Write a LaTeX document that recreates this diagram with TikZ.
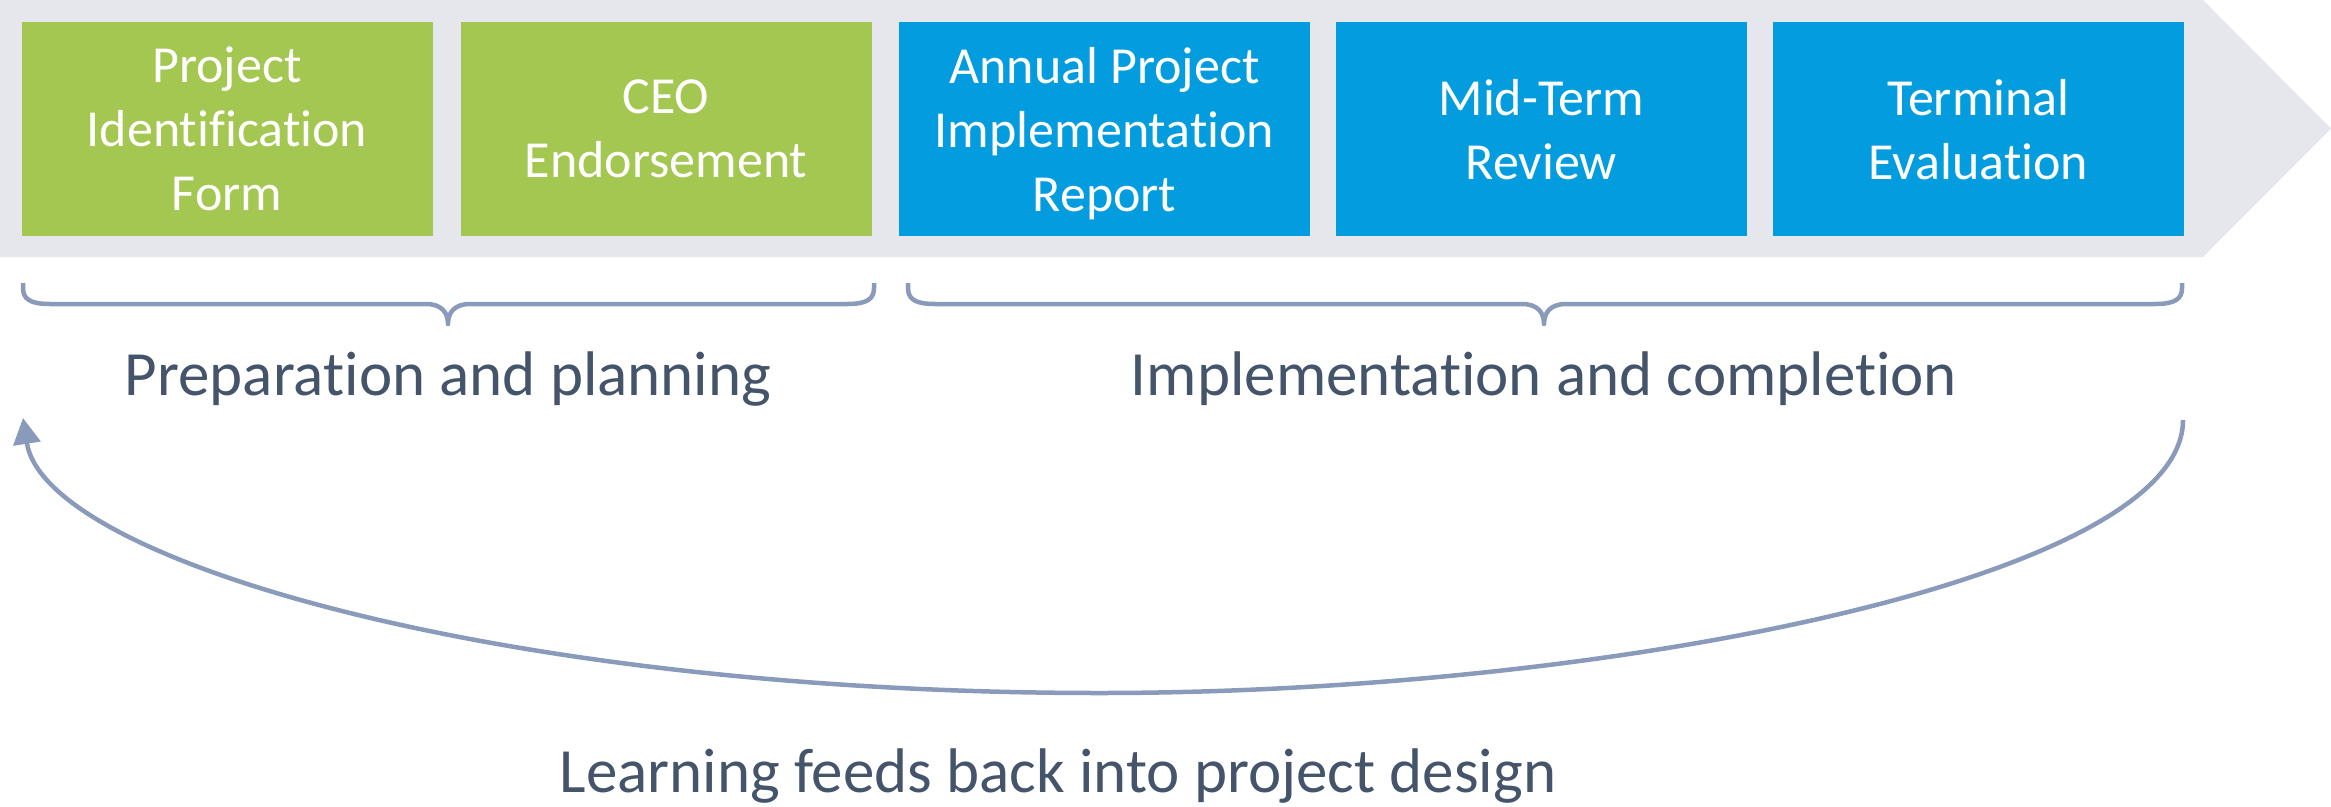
\documentclass[tikz,border=0pt]{standalone}
\usepackage{fontspec}
\setmainfont{Carlito}[RawFeature={-liga;-clig;-calt}]
\usetikzlibrary{arrows.meta}
\definecolor{bandgray}{HTML}{E6E7EC}
\definecolor{pifgreen}{HTML}{A3C751}
\definecolor{impblue}{HTML}{039DDF}
\definecolor{labeltext}{HTML}{44546A}
\definecolor{bracecol}{HTML}{8A9ABA}
\tikzset{
  stagebox/.style={minimum width=411pt, minimum height=214pt, inner sep=0pt, text=white, align=center, font=\fontsize{52}{64}\selectfont, text depth=0pt},
  prepbox/.style={stagebox, fill=pifgreen},
  implbox/.style={stagebox, fill=impblue},
  bracestyle/.style={draw=bracecol, line width=4.5pt, line join=round},
  phaselabel/.style={text=labeltext, font=\fontsize{63}{76}\selectfont, anchor=base, inner sep=0pt},
  feedback/.style={draw=bracecol, line width=4.5pt, -{Triangle[length=26pt,width=27pt]}}
}
\begin{document}
\begin{tikzpicture}[x=1pt,y=-1pt]
\useasboundingbox (0,0) rectangle (2331,806);
% background chevron band
\fill[bandgray] (0,0) -- (2203,0) -- (2331,128.5) -- (2203,257) -- (0,257) -- cycle;
% stage boxes
\node[prepbox] (pif) at (227,129) {Project\\Identification\\Form};
\node[prepbox] (ceo) at (666,129) {CEO\\Endorsement};
\node[implbox] (apr) at (1104.5,129) {Annual Project\\Implementation\\Report};
\node[implbox] (mtr) at (1541.5,129) {Mid-Term\\Review};
\node[implbox] (te) at (1978.5,129) {Terminal\\Evaluation};
% left brace
\draw[bracestyle] (23,283) -- (23,288) .. controls (23,299) and (30,304) .. (50,304) -- (426,304)
  .. controls (441,304) and (448,312) .. (448,324)
  .. controls (448,312) and (455,304) .. (470,304) -- (847,304)
  .. controls (867,304) and (874,299) .. (874,288) -- (874,283);
% right brace
\draw[bracestyle] (908,283) -- (908,288) .. controls (908,299) and (915,304) .. (935,304) -- (1522,304)
  .. controls (1537,304) and (1544,312) .. (1544,324)
  .. controls (1544,312) and (1551,304) .. (1566,304) -- (2155,304)
  .. controls (2175,304) and (2182,299) .. (2182,288) -- (2182,283);
% phase labels
\node[phaselabel] (prep) at (448,395) {Preparation and planning};
\node[phaselabel] (impl) at (1544,395) {Implementation and completion};
% feedback arrow
\coordinate (fbStart) at (2183,420);
\coordinate (fbBottom) at (1100,693);
\coordinate (fbEnd) at (23,418);
\draw[feedback] (fbStart) .. controls (2183,580) and (1600,693) .. (fbBottom)
  .. controls (500,693) and (45,560) .. (fbEnd);
\node[phaselabel] (learn) at (1058,792) {Learning feeds back into project design};
\end{tikzpicture}
\end{document}
